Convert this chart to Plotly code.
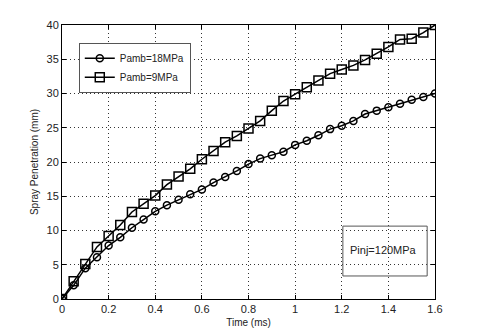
"""Spray penetration vs time for two ambient pressures
"""

import plotly.graph_objects as go

# data
time_ms = [0.0, 0.05, 0.1, 0.15, 0.2, 0.25, 0.3, 0.35, 0.4, 0.45, 0.5,
           0.55, 0.6, 0.65, 0.7, 0.75, 0.8, 0.85, 0.9, 0.95, 1.0,
           1.05, 1.1, 1.15, 1.2, 1.25, 1.3, 1.35, 1.4, 1.45, 1.5, 1.55, 1.6]
pamb_18 = [0, 2.0, 4.5, 6.1, 7.8, 9.0, 10.4, 11.6, 12.8, 13.7, 14.5,
           15.3, 16.0, 17.0, 17.8, 18.7, 19.7, 20.5, 21.0, 21.5, 22.5,
           23.1, 23.9, 24.8, 25.3, 26.0, 27.0, 27.5, 28.0, 28.5, 29.1, 29.5, 30.0]
pamb_9 = [0, 2.6, 5.1, 7.6, 9.2, 10.8, 12.7, 13.9, 15.1, 16.7, 17.9,
          19.0, 20.4, 21.6, 22.9, 23.8, 24.9, 26.0, 27.5, 28.9, 29.9,
          30.9, 31.9, 32.9, 33.5, 34.1, 34.9, 35.8, 36.8, 37.9, 38.0, 38.9, 40.0]

FONT = "Liberation Sans, Arial, sans-serif"

fig = go.Figure()
fig.add_trace(go.Scatter(x=time_ms, y=pamb_18, name="Pamb=18MPa",
                         mode="lines+markers",
                         line=dict(color="black", width=1.5),
                         marker=dict(symbol="circle-open", size=7,
                                     color="black", line=dict(width=1.5))))
fig.add_trace(go.Scatter(x=time_ms, y=pamb_9, name="Pamb=9MPa",
                         mode="lines+markers",
                         line=dict(color="black", width=1.5),
                         marker=dict(symbol="square-open", size=9,
                                     color="black", line=dict(width=1.5))))

axis_style = dict(showline=True, linecolor="black", linewidth=1, mirror="ticks",
                  ticks="inside", ticklen=4, tickcolor="black", automargin=False,
                  showgrid=True, gridcolor="#333", gridwidth=1, griddash="1px,3px",
                  zeroline=False, tickfont=dict(size=11, color="#222"))

# the page body adds an 8px offset, margins compensate for it
fig.update_layout(
    width=480, height=336,
    margin=dict(l=54, r=53, t=17, b=45),
    paper_bgcolor="white", plot_bgcolor="white",
    font=dict(family=FONT, size=11, color="#222"),
    xaxis=dict(range=[0, 1.6], dtick=0.2, tickformat="~g",
               title=dict(text="Time (ms)", font=dict(size=10), standoff=4),
               **axis_style),
    yaxis=dict(range=[0, 40], dtick=5,
               title=dict(text="Spray Penetration (mm)", font=dict(size=10), standoff=6),
               **axis_style),
    legend=dict(x=0.045, y=0.935, xanchor="left", yanchor="top",
                bgcolor="white", bordercolor="#555", borderwidth=1,
                font=dict(size=10), tracegroupgap=0, itemwidth=30),
    showlegend=True,
)

# annotation box for injection pressure (transparent, grid shows through)
fig.add_shape(type="rect", xref="paper", yref="paper",
              x0=0.753, x1=0.979, y0=0.084, y1=0.266,
              line=dict(color="#555", width=1), fillcolor="rgba(0,0,0,0)")
fig.add_annotation(xref="paper", yref="paper", x=0.862, y=0.178,
                   xanchor="center", yanchor="middle",
                   text="Pinj=120MPa", showarrow=False,
                   font=dict(size=11, color="#222"))

fig.write_html("out.html")
